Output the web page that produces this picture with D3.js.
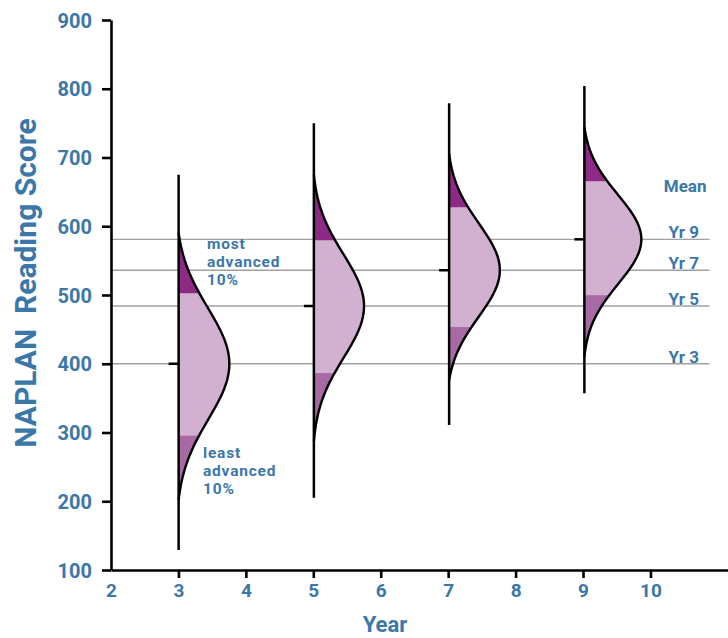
<!DOCTYPE html>
<html>
<head>
<meta charset="utf-8">
<script src="https://cdn.jsdelivr.net/npm/d3@7"></script>
<style>
  body { margin: 0; background: #fff; }
  svg { display: block; font-family: Roboto, "Noto Sans", sans-serif; }
</style>
</head>
<body>
<div class="d3"></div>
<script>
// values
const years = [3, 5, 7, 9];
const yearLabels = ["Yr 3", "Yr 5", "Yr 7", "Yr 9"];
const means = [400, 484, 536, 581];
const p10 = [296, 387, 454, 500];      // least advanced 10% cut-off
const p90 = [503, 580, 628, 666];      // most advanced 10% cut-off
const curveMin = [202, 287, 376, 410];
const curveMax = [590, 675, 706, 745];
const rangeMin = [129, 205, 311, 357];
const rangeMax = [675, 750, 779, 804];
const peakDensity = [0.89, 0.88, 0.89, 1.0]; // relative height of each curve
const xTicks = [2, 3, 4, 5, 6, 7, 8, 9, 10];
const yTicks = [100, 200, 300, 400, 500, 600, 700, 800, 900];

const width = 728;
const height = 638;
const textColor = "#3b77a9";
const bandColors = { top: "#8d2a86", mid: "#d2b0cf", low: "#a86aa5" };

const svg = d3.select("div.d3")
    .append("svg")
    .attr("width", width)
    .attr("height", height);

const x = d3.scaleLinear().domain([2, 10]).range([111, 652]);
const y = d3.scaleLinear().domain([100, 900]).range([570, 20]);
const w = d3.scaleLinear().domain([0, 1]).range([0, 57]);

// mean reference lines (behind everything)
svg.append("g")
    .selectAll("line")
    .data(means)
    .enter()
    .append("line")
    .attr("x1", x(2))
    .attr("x2", x(10.85))
    .attr("y1", d => y(d))
    .attr("y2", d => y(d))
    .attr("stroke", "#a0a0a0")
    .attr("stroke-width", 1.3);

// half-normal shaped distribution for each year
function curvePoints(i, lo, hi) {
    const mu = means[i];
    const sd = (p90[i] - p10[i]) / 2.563;
    const pts = [];
    const n = 60;
    for (let k = 0; k <= n; k++) {
        const v = lo + (hi - lo) * k / n;
        const edge = v >= mu ? curveMax[i] : curveMin[i];
        const zEnd = (edge - mu) / sd;
        const fEnd = Math.exp(-zEnd * zEnd / 2);
        const z = (v - mu) / sd;
        const f = (Math.exp(-z * z / 2) - fEnd) / (1 - fEnd);
        pts.push({ v: v, d: Math.max(0, f) * peakDensity[i] });
    }
    return pts;
}

const dist = svg.append("g")
    .selectAll("g")
    .data(years)
    .enter()
    .append("g");

dist.each(function(yr, i) {
    const g = d3.select(this);
    const area = d3.area()
        .y(p => y(p.v))
        .x0(x(yr))
        .x1(p => x(yr) + w(p.d));

    const bands = [
        { lo: curveMin[i], hi: p10[i], color: bandColors.low },
        { lo: p10[i], hi: p90[i], color: bandColors.mid },
        { lo: p90[i], hi: curveMax[i], color: bandColors.top }
    ];
    bands.forEach(b => {
        g.append("path")
            .attr("d", area(curvePoints(i, b.lo, b.hi)))
            .attr("fill", b.color)
            .attr("stroke", b.color)
            .attr("stroke-width", 0.5);
    });

    const line = d3.line()
        .y(p => y(p.v))
        .x(p => x(yr) + w(p.d));
    g.append("path")
        .attr("d", line(curvePoints(i, curveMin[i], curveMax[i])))
        .attr("fill", "none")
        .attr("stroke", "#000")
        .attr("stroke-width", 2.4);

    // score range line
    g.append("line")
        .attr("x1", x(yr)).attr("x2", x(yr))
        .attr("y1", y(rangeMin[i])).attr("y2", y(rangeMax[i]))
        .attr("stroke", "#000")
        .attr("stroke-width", 2.5);

    // mean tick
    g.append("line")
        .attr("x1", x(yr) - 10).attr("x2", x(yr))
        .attr("y1", y(means[i])).attr("y2", y(means[i]))
        .attr("stroke", "#000")
        .attr("stroke-width", 2.5);
});

// axes
const yAxis = svg.append("g")
    .attr("transform", "translate(" + x(2) + ",0)")
    .call(d3.axisLeft(y).tickValues(yTicks).tickSize(9).tickSizeOuter(0).tickPadding(10));

const xAxis = svg.append("g")
    .attr("transform", "translate(0," + y(100) + ")")
    .call(d3.axisBottom(x.copy().domain([2, 11.15]).range([111, 728]))
        .tickValues(xTicks).tickSize(8).tickSizeOuter(0).tickPadding(6));

xAxis.selectAll(".tick").filter(d => d === 2).select("line").remove();

[yAxis, xAxis].forEach(a => {
    a.select(".domain").attr("stroke", "#000").attr("stroke-width", 2.6);
    a.selectAll(".tick line").attr("stroke", "#000").attr("stroke-width", 2.6);
    a.selectAll(".tick text")
        .attr("fill", textColor)
        .attr("font-weight", 700)
        .attr("font-family", "Roboto, sans-serif");
});
yAxis.selectAll(".tick text").attr("font-size", 20).attr("dy", "0.36em");
xAxis.selectAll(".tick text").attr("font-size", 19);

// axis titles
svg.append("text")
    .attr("transform", "translate(36," + 283 + ") rotate(-90)")
    .attr("text-anchor", "middle")
    .attr("fill", textColor)
    .attr("font-size", 30)
    .attr("font-weight", 700)
    .attr("xml:space", "preserve")
    .style("white-space", "pre")
    .text("NAPLAN  Reading Score");

svg.append("text")
    .attr("x", 385)
    .attr("y", 632)
    .attr("text-anchor", "middle")
    .attr("fill", textColor)
    .attr("font-size", 22)
    .attr("font-weight", 700)
    .text("Year");

// right-hand mean labels
const labels = svg.append("g")
    .attr("fill", textColor)
    .attr("font-weight", 700)
    .attr("font-size", 17)
    .attr("text-anchor", "middle");

labels.selectAll("text.yr")
    .data(yearLabels)
    .enter()
    .append("text")
    .attr("class", "yr")
    .attr("x", x(10.47))
    .attr("y", (d, i) => y(means[i]) - 1)
    .text(d => d);

labels.append("text")
    .attr("x", x(10.49))
    .attr("y", 192)
    .text("Mean");

// annotations for the year 3 curve
const notes = [
    { x: 207, y: 249, lines: ["most", "advanced", "10%"] },
    { x: 203, y: 458, lines: ["least", "advanced", "10%"] }
];
notes.forEach(n => {
    svg.append("text")
        .attr("fill", textColor)
        .attr("font-weight", 700)
        .attr("font-size", 15.5)
        .attr("letter-spacing", 0.8)
        .selectAll("tspan")
        .data(n.lines)
        .enter()
        .append("tspan")
        .attr("x", n.x)
        .attr("y", (d, i) => n.y + i * 18)
        .text(d => d);
});
</script>
</body>
</html>
